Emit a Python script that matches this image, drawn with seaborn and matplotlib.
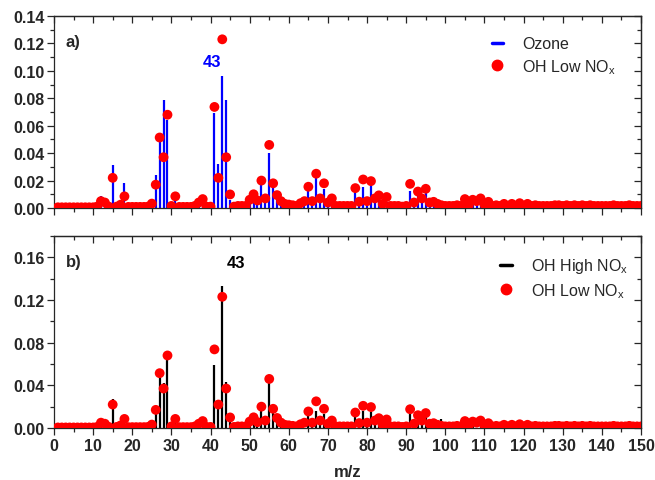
import numpy as np
import pandas as pd
import matplotlib
matplotlib.use("Agg")
import matplotlib.pyplot as plt
from matplotlib.lines import Line2D
from matplotlib.ticker import MultipleLocator, FormatStrFormatter
import seaborn as sns

# ------------------------------------------------------
# data: normalised mass spectra, m/z 1..150
# ------------------------------------------------------
mz = list(range(1, 151))

low_nox = [
    0.0005, 0.0005, 0.0005, 0.0005, 0.0005, 0.0005, 0.0005, 0.0005, 0.0005, 0.0005,
    0.001, 0.005, 0.004, 0.001, 0.022, 0.001, 0.0024, 0.0085, 0.0008, 0.0008,
    0.0008, 0.0008, 0.0008, 0.001, 0.0032, 0.017, 0.0514, 0.037, 0.068, 0.0015,
    0.0085, 0.0008, 0.0008, 0.0008, 0.0008, 0.0015, 0.004, 0.0065, 0.001, 0.001,
    0.0737, 0.022, 0.123, 0.037, 0.0099, 0.001, 0.0015, 0.0015, 0.0015, 0.006,
    0.010, 0.0055, 0.020, 0.007, 0.046, 0.018, 0.0094, 0.005, 0.003, 0.0025,
    0.002, 0.0015, 0.0035, 0.005, 0.0155, 0.005, 0.025, 0.007, 0.018, 0.004,
    0.007, 0.0015, 0.0015, 0.0015, 0.0015, 0.0015, 0.0145, 0.0046, 0.0208, 0.005,
    0.0196, 0.007, 0.0092, 0.003, 0.008, 0.0015, 0.0015, 0.0015, 0.001, 0.0015,
    0.0176, 0.004, 0.012, 0.007, 0.014, 0.004, 0.0045, 0.003, 0.002, 0.0015,
    0.0015, 0.0015, 0.002, 0.0015, 0.0065, 0.002, 0.006, 0.005, 0.007, 0.0025,
    0.0045, 0.0015, 0.002, 0.0015, 0.003, 0.0015, 0.003, 0.0015, 0.0035, 0.0015,
    0.003, 0.0015, 0.002, 0.0015, 0.0015, 0.0015, 0.0015, 0.002, 0.002, 0.0015,
    0.002, 0.0015, 0.002, 0.0015, 0.002, 0.0015, 0.002, 0.0015, 0.0015, 0.0015,
    0.0015, 0.0015, 0.002, 0.0015, 0.0015, 0.0015, 0.002, 0.0015, 0.0015, 0.0015,
]

ozone = [
    0, 0, 0, 0, 0, 0, 0, 0, 0, 0,
    0, 0.0085, 0.004, 0.002, 0.031, 0.001, 0.001, 0.018, 0, 0,
    0, 0, 0, 0.001, 0.002, 0.024, 0.0548, 0.079, 0.064, 0.001,
    0.0048, 0, 0, 0, 0, 0, 0.002, 0.003, 0, 0,
    0.069, 0.032, 0.096, 0.079, 0.006, 0, 0, 0, 0, 0.004,
    0.010, 0.004, 0.0186, 0.006, 0.040, 0.016, 0.008, 0.004, 0.003, 0,
    0, 0, 0.002, 0.003, 0.0138, 0.003, 0.022, 0.009, 0.0138, 0.003,
    0.004, 0, 0, 0, 0, 0, 0.0114, 0.003, 0.015, 0.004,
    0.0167, 0.006, 0.0065, 0.002, 0.0045, 0, 0, 0, 0, 0,
    0.0125, 0.002, 0.010, 0.004, 0.0125, 0.002, 0.003, 0, 0, 0,
    0, 0, 0, 0, 0.004, 0, 0.004, 0.003, 0.005, 0,
    0.003, 0, 0, 0, 0, 0, 0, 0, 0, 0,
    0, 0, 0, 0, 0, 0, 0, 0, 0, 0,
    0, 0, 0, 0, 0, 0, 0, 0, 0, 0,
    0, 0, 0, 0, 0, 0, 0, 0, 0, 0,
]

high_nox = [
    0, 0, 0, 0, 0, 0, 0, 0, 0, 0,
    0, 0.004, 0.003, 0, 0.027, 0, 0, 0.007, 0, 0,
    0, 0, 0, 0, 0.002, 0.016, 0.049, 0.0425, 0.064, 0,
    0.005, 0, 0, 0, 0, 0, 0.002, 0.003, 0, 0,
    0.059, 0.020, 0.133, 0.043, 0.008, 0, 0, 0, 0, 0.004,
    0.008, 0.004, 0.022, 0.005, 0.0487, 0.016, 0.008, 0.003, 0, 0,
    0, 0, 0, 0, 0.012, 0.003, 0.016, 0.005, 0.013, 0.002,
    0.004, 0, 0, 0, 0, 0, 0.013, 0.003, 0.016, 0.004,
    0.015, 0.005, 0.007, 0, 0.004, 0, 0, 0, 0, 0,
    0.016, 0.003, 0.011, 0.004, 0.013, 0, 0.003, 0, 0.008, 0,
    0, 0, 0, 0, 0.004, 0, 0.003, 0, 0.004, 0,
    0, 0, 0, 0, 0, 0, 0, 0, 0, 0,
    0, 0, 0, 0, 0, 0, 0, 0, 0, 0,
    0, 0, 0, 0, 0, 0, 0, 0, 0, 0,
    0, 0, 0, 0, 0, 0, 0, 0, 0, 0,
]

df = pd.DataFrame({"mz": mz, "low": low_nox, "ozone": ozone, "high": high_nox})

# ------------------------------------------------------
# style
# ------------------------------------------------------
sns.set_style("ticks")
plt.rcParams["font.family"] = ["Liberation Sans", "DejaVu Sans"]
plt.rcParams["mathtext.fontset"] = "custom"
plt.rcParams["mathtext.rm"] = "Liberation Sans"
plt.rcParams["mathtext.it"] = "Liberation Sans"
plt.rcParams["axes.linewidth"] = 0.9

RED = "#ff0000"
BLUE = "#0000ff"

fig = plt.figure(figsize=(6.55, 4.81), dpi=100)
ax_a = fig.add_axes([54 / 655, 1 - 209 / 481, 587 / 655, 192 / 481])
ax_b = fig.add_axes([54 / 655, 1 - 429 / 481, 587 / 655, 192 / 481])


def style_axis(ax, ymax, ymaj, ymin, show_x):
    ax.set_xlim(0, 150)
    ax.set_ylim(0, ymax)
    ax.xaxis.set_major_locator(MultipleLocator(10))
    ax.xaxis.set_minor_locator(MultipleLocator(5))
    ax.yaxis.set_major_locator(MultipleLocator(ymaj))
    ax.yaxis.set_minor_locator(MultipleLocator(ymin))
    ax.yaxis.set_major_formatter(FormatStrFormatter("%.2f"))
    ax.tick_params(which="major", direction="out", length=5, width=0.9,
                   labelsize=11.5, pad=2, labelbottom=show_x)
    ax.tick_params(which="minor", direction="out", length=3, width=0.9)
    for lab in ax.get_xticklabels() + ax.get_yticklabels():
        lab.set_fontweight("bold")
    # mirrored ticks pointing inward on top / right
    top = ax.secondary_xaxis("top")
    top.xaxis.set_major_locator(MultipleLocator(10))
    top.xaxis.set_minor_locator(MultipleLocator(5))
    top.tick_params(which="major", direction="in", length=5, width=0.9, labeltop=False)
    top.tick_params(which="minor", direction="in", length=3, width=0.9)
    right = ax.secondary_yaxis("right")
    right.yaxis.set_major_locator(MultipleLocator(ymaj))
    right.yaxis.set_minor_locator(MultipleLocator(ymin))
    right.tick_params(which="major", direction="in", length=5, width=0.9, labelright=False)
    right.tick_params(which="minor", direction="in", length=3, width=0.9)
    ax.set_xlabel("")
    ax.set_ylabel("")


# panel a: ozone vs OH low NOx
ax_a.vlines(df["mz"], 0, df["ozone"], color=BLUE, lw=1.6, zorder=2)
sns.scatterplot(data=df, x="mz", y="low", ax=ax_a, color=RED, s=50,
                edgecolor="none", zorder=3, legend=False)
style_axis(ax_a, 0.14, 0.02, 0.01, False)
ax_a.text(0.02, 0.865, "a)", transform=ax_a.transAxes, fontsize=12,
          fontweight="bold", va="center")
ax_a.text(40.3, 0.1065, "43", color=BLUE, fontsize=12, fontweight="bold",
          ha="center", va="center")
h_a = [Line2D([], [], color=BLUE, lw=2.5),
       Line2D([], [], color=RED, marker="o", ls="none", markersize=7.5)]
ax_a.legend(h_a, ["Ozone", "OH Low NO$_x$"], loc="upper left",
            bbox_to_anchor=(0.732, 0.935), frameon=False, fontsize=11.5,
            handlelength=0.7, handletextpad=1.2, labelspacing=0.35, borderpad=0)

# panel b: OH high NOx vs OH low NOx
ax_b.vlines(df["mz"], 0, df["high"], color="black", lw=1.6, zorder=2)
sns.scatterplot(data=df, x="mz", y="low", ax=ax_b, color=RED, s=50,
                edgecolor="none", zorder=3, legend=False)
style_axis(ax_b, 0.18, 0.04, 0.02, True)
ax_b.text(0.02, 0.865, "b)", transform=ax_b.transAxes, fontsize=12,
          fontweight="bold", va="center")
ax_b.text(46.6, 0.155, "43", color="black", fontsize=12, fontweight="bold",
          ha="center", va="center")
h_b = [Line2D([], [], color="black", lw=2.5),
       Line2D([], [], color=RED, marker="o", ls="none", markersize=7.5)]
ax_b.legend(h_b, ["OH High NO$_x$", "OH Low NO$_x$"], loc="upper left",
            bbox_to_anchor=(0.747, 0.935), frameon=False, fontsize=11.5,
            handlelength=0.7, handletextpad=1.2, labelspacing=0.35, borderpad=0)
ax_b.set_xlabel("m/z", fontsize=12, fontweight="bold", labelpad=8)

fig.savefig("out.png", dpi=100)
